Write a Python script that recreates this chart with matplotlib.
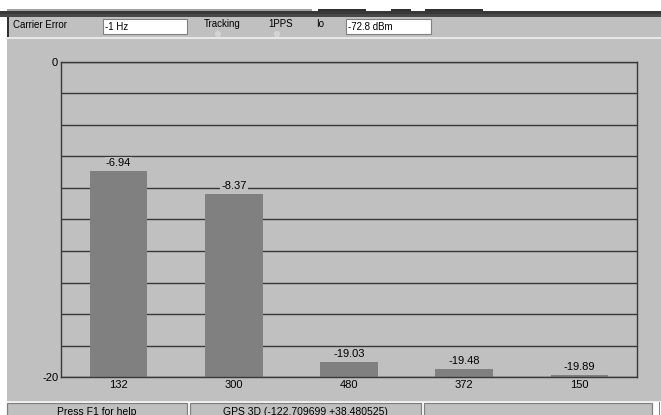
import matplotlib
matplotlib.use("Agg")
import matplotlib.pyplot as plt
from matplotlib.patches import Rectangle, Circle
import numpy as np

plt.rcParams['font.family'] = ['Liberation Sans', 'DejaVu Sans']

# chart data
satellites = ['132', '300', '480', '372', '150']
levels = [-6.94, -8.37, -19.03, -19.48, -19.89]
y_min, y_max = -20, 0

# window texts
carrier_error = '-1 Hz'
io_level = '-72.8 dBm'
status_help = 'Press F1 for help'
status_fix = 'GPS 3D (-122.709699 +38.480525)'

W, H = 661, 415
face = '#c0c0c0'
dark = '#383838'

fig = plt.figure(figsize=(W / 100, H / 100), dpi=100)
fig.patch.set_facecolor('white')

# background "window" drawn in pixel coordinates
bg = fig.add_axes([0, 0, 1, 1])
bg.set_xlim(0, W)
bg.set_ylim(H, 0)
bg.axis('off')

def rect(x, y, w, h, fc, ec='none', lw=0.0, z=1):
    bg.add_patch(Rectangle((x, y), w, h, fc=fc, ec=ec, lw=lw, zorder=z))

# main panel
rect(7, 17, W - 7, 385, face)
# toolbar remnants at the top
rect(7, 9, 305, 2, '#a0a0a0')
for x0, x1 in [(318, 366), (391, 411), (425, 483)]:
    rect(x0, 9, x1 - x0, 2, '#303030')
rect(0, 11.5, W, 2.5, '#383838')
rect(0, 14.5, W, 2.5, '#484848')
rect(7, 17, 1.5, 21, '#303030')
rect(7, 37.5, W - 7, 1.5, '#e8e8e8')

# top controls
top_font = dict(fontsize=7, color='black', va='center', ha='left', zorder=3)
bg.text(13, 25, 'Carrier Error', **top_font)
rect(103, 19, 84, 15, 'white', ec='#808080', lw=0.8, z=2)
bg.text(105, 26.5, carrier_error, **top_font)
bg.text(204, 24, 'Tracking', **top_font)
bg.text(268, 24, '1PPS', **top_font)
bg.text(316, 24, 'Io', **top_font)
rect(346, 19, 85, 15, 'white', ec='#808080', lw=0.8, z=2)
bg.text(348, 26.5, io_level, **top_font)
for cx in [218, 277]:
    bg.add_patch(Circle((cx, 34), 3.2, fc='#d4d4d4', ec='none', zorder=2))

# status bar
rect(7, 400.5, W - 7, 1.5, '#eeeeee')
for x0, x1 in [(7, 187), (190, 421), (424, 652)]:
    rect(x0, 403, x1 - x0, 14, face, ec='#808080', lw=0.9, z=2)
rect(659, 402, 1.2, 13, '#808080')
bg.text(97, 406.5, status_help, fontsize=7.5, ha='center', va='top', zorder=3)
bg.text(305, 406.5, status_fix, fontsize=7.5, ha='center', va='top', zorder=3)

# chart area
ax = fig.add_axes([61 / W, (H - 377) / H, 576 / W, 315 / H])
ax.set_facecolor(face)
x = np.arange(len(satellites))
heights = [v - y_min for v in levels]
ax.bar(x, heights, bottom=y_min, width=0.5, color='#808080', zorder=2)

ax.set_xlim(-0.5, len(satellites) - 0.5)
ax.set_ylim(y_min, y_max)
ticks = np.arange(y_min, y_max + 1, 2)
ax.set_yticks(ticks)
ax.set_yticklabels([str(t) if t in (y_min, y_max) else '' for t in ticks])
ax.set_xticks(x)
ax.set_xticklabels(satellites)
ax.tick_params(length=0, labelsize=8, colors='black', pad=2)
ax.grid(axis='y', color=dark, lw=1.0)
ax.set_axisbelow(True)
for s in ax.spines.values():
    s.set_color(dark)
    s.set_linewidth(1.0)

for xi, v in zip(x, levels):
    ax.annotate(f'{v:.2f}', (xi, v), xytext=(0, 3), textcoords='offset pixels',
                ha='center', va='bottom', fontsize=8, zorder=4,
                bbox=dict(boxstyle='square,pad=0.1', fc=face, ec='none'))

fig.savefig('out.png', dpi=100, facecolor=fig.get_facecolor())
